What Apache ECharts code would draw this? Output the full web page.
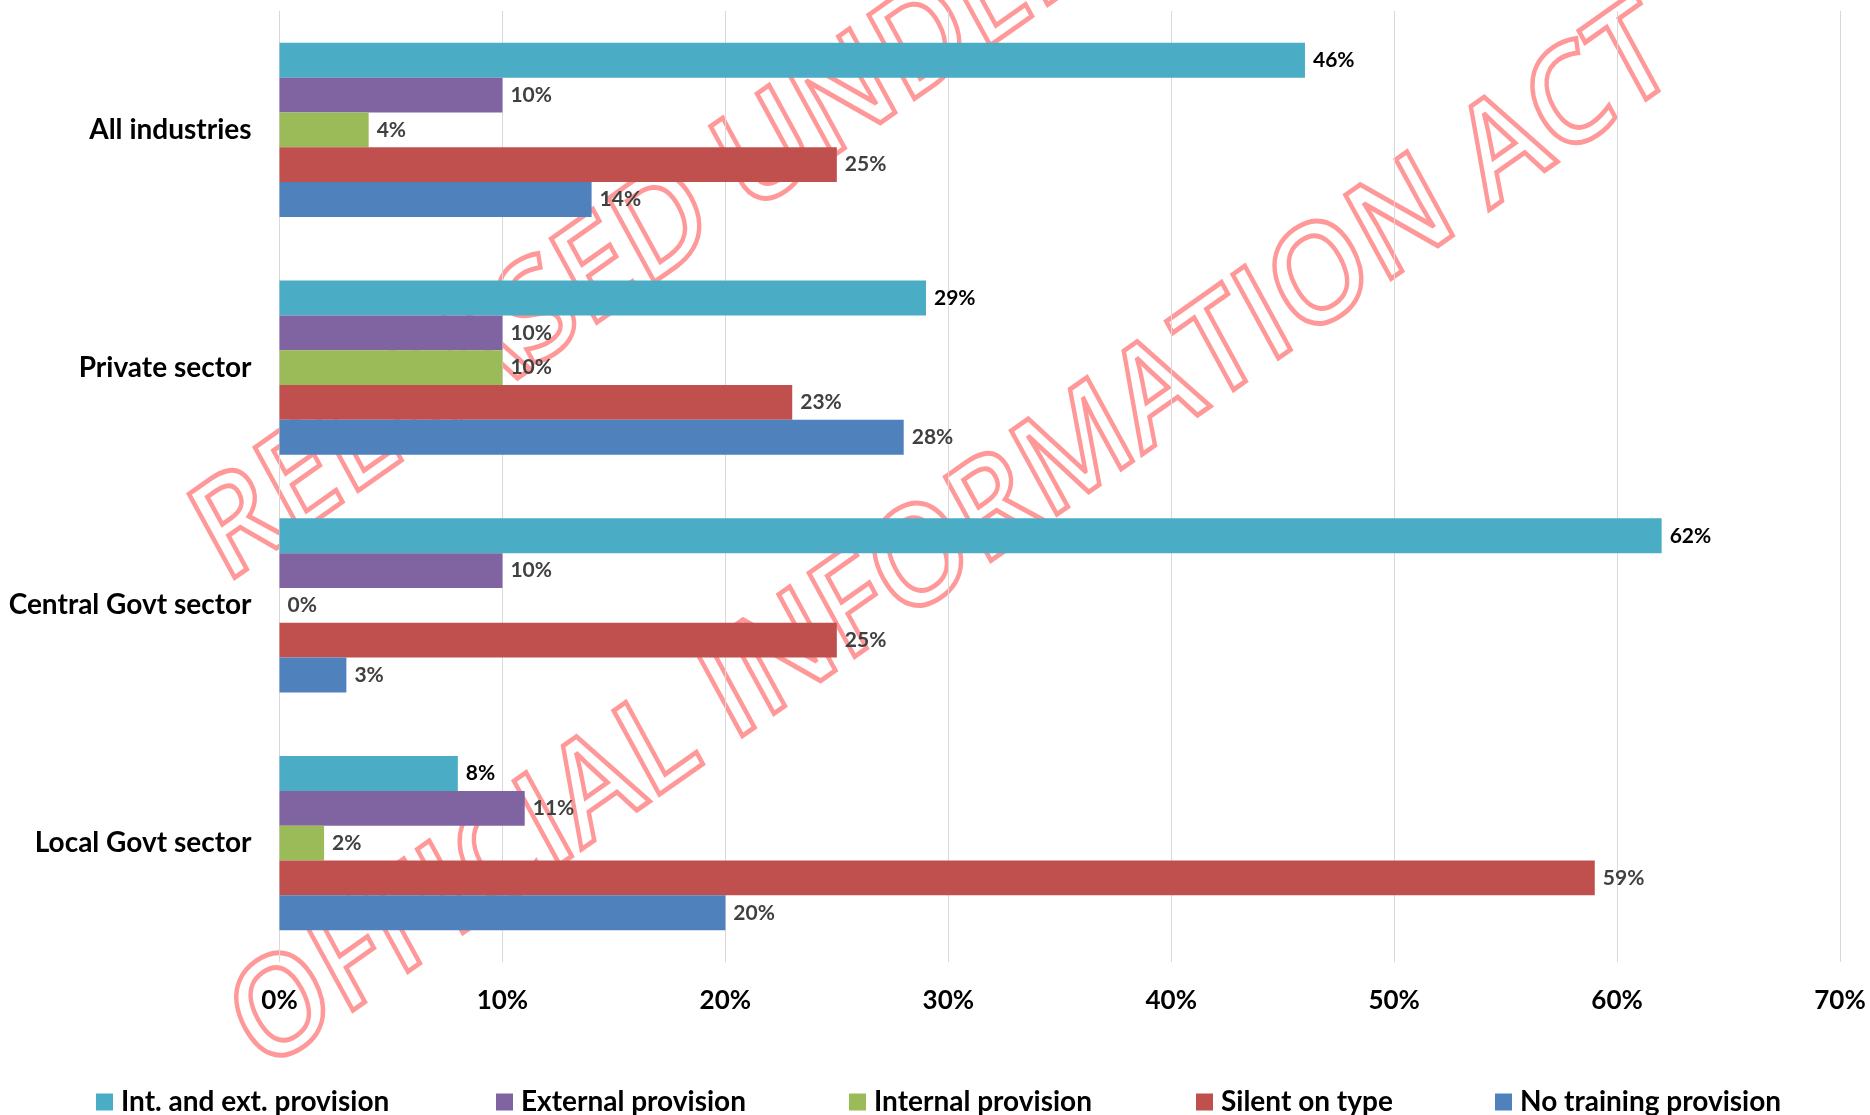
<!DOCTYPE html>
<html>
<head>
<meta charset="utf-8">
<script src="https://cdn.jsdelivr.net/npm/echarts@6/dist/echarts.min.js"></script>
<style>
  html, body { margin: 0; padding: 0; background: #ffffff; }
  #chart { width: 1870px; height: 1115px; }
</style>
</head>
<body>
<div id="chart"></div>
<script>
// Sectors (top to bottom)
const categories = ['All industries', 'Private sector', 'Central Govt sector', 'Local Govt sector'];

// Share of agreements by training provision type (%)
const intAndExt  = [46, 29, 62, 8];
const external   = [10, 10, 10, 11];
const internal   = [4, 10, 0, 2];
const silent     = [25, 23, 25, 59];
const noTraining = [14, 28, 3, 20];

const seriesNames = ['Int. and ext. provision', 'External provision', 'Internal provision', 'Silent on type', 'No training provision'];
const seriesData  = [intAndExt, external, internal, silent, noTraining];
const colors      = ['#4BACC6', '#8064A2', '#9BBB59', '#C0504D', '#4F81BD'];
const labelColors = ['#000000', '#404040', '#404040', '#404040', '#404040'];

// Axis ticks (%)
const xMin = 0, xMax = 70, xStep = 10;

const FONT = 'Lato, "Open Sans", sans-serif';

// Left edge of each legend entry
const legendLeft = [91, 491, 844, 1191, 1490];

const chart = echarts.init(document.getElementById('chart'), null, { renderer: 'canvas' });

const series = seriesNames.map((name, i) => ({
  name: name,
  type: 'bar',
  data: seriesData[i],
  barGap: '0%',
  barCategoryGap: '26.8%',
  itemStyle: { color: colors[i] },
  label: {
    show: true,
    position: 'right',
    distance: 8,
    formatter: '{c}%',
    color: labelColors[i],
    fontFamily: FONT,
    fontWeight: 'bold',
    fontSize: 21
  }
}));

// Outlined watermark lettering
const watermarkStyle = {
  fill: 'none',
  stroke: 'rgba(255,0,0,0.4)',
  lineWidth: 5,
  font: '600 138px "Open Sans", sans-serif',
  align: 'left', verticalAlign: 'middle',
  textAlign: 'left', textVerticalAlign: 'middle'
};
const wmAngle = 31.8 * Math.PI / 180;

chart.setOption({
  animation: false,
  backgroundColor: '#ffffff',
  grid: { left: 279.5, right: 30, top: 11, bottom: 153, containLabel: false },
  xAxis: {
    type: 'value',
    min: xMin, max: xMax, interval: xStep,
    axisLine: { show: false },
    axisTick: { show: false },
    splitLine: { show: true, lineStyle: { color: '#d9d9d9', width: 1 } },
    axisLabel: {
      formatter: '{value}%',
      color: '#000000',
      fontFamily: FONT,
      fontWeight: 'bold',
      fontSize: 26,
      margin: 26
    }
  },
  yAxis: {
    type: 'category',
    data: categories,
    inverse: true,
    axisLine: { show: false },
    axisTick: { show: false },
    axisLabel: {
      color: '#000000',
      fontFamily: FONT,
      fontWeight: 'bold',
      fontSize: 28,
      margin: 28
    }
  },
  legend: seriesNames.map((name, i) => ({
    data: [name],
    left: legendLeft[i],
    top: 1083,
    itemWidth: 17,
    itemHeight: 17,
    icon: 'rect',
    textStyle: {
      color: '#000000',
      fontFamily: FONT,
      fontWeight: 'bold',
      fontSize: 28,
      padding: [0, 0, 0, 3]
    },
    selectedMode: false
  })),
  series: series,
  graphic: [{
    type: 'group',
    x: 0, y: 0,
    scaleX: 0.88,
    z: 100,
    silent: true,
    children: [
      { type: 'text', x: 235, y: 551, rotation: wmAngle,
        style: Object.assign({ text: 'RELEASED UNDER' }, watermarkStyle) },
      { type: 'text', x: 277, y: 1041, rotation: wmAngle,
        style: Object.assign({ text: 'OFFICIAL INFORMATION ACT' }, watermarkStyle) }
    ]
  }]
});
</script>
</body>
</html>
